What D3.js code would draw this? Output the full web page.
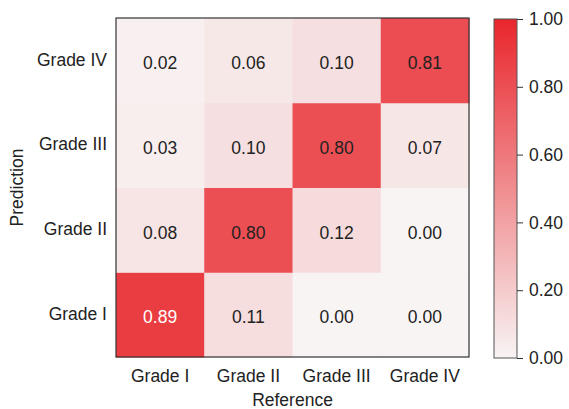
<!DOCTYPE html>
<html><head><meta charset="utf-8">
<script src="https://cdn.jsdelivr.net/npm/d3@7"></script>
<style>body{margin:0;background:#fff}text{font-family:"Liberation Sans",Arial,sans-serif}</style>
</head><body><svg id="c" width="569" height="409"></svg>
<script>
const refLabels = ["Grade I","Grade II","Grade III","Grade IV"];
const predLabels = ["Grade I","Grade II","Grade III","Grade IV"];
// rows: prediction (Grade I..IV), columns: reference (Grade I..IV)
const rowGradeI   = [0.89,0.11,0.00,0.00];
const rowGradeII  = [0.08,0.80,0.12,0.00];
const rowGradeIII = [0.03,0.10,0.80,0.07];
const rowGradeIV  = [0.02,0.06,0.10,0.81];
const colorTicks = [0,0.2,0.4,0.6,0.8,1.0];

const rows = [rowGradeI,rowGradeII,rowGradeIII,rowGradeIV];
const cells = [];
rows.forEach((r,i)=>r.forEach((v,j)=>cells.push({pred:predLabels[i],ref:refLabels[j],v})));

const FS = 17.5;
const svg = d3.select("#c");
const L=116,R=469,T=18,B=357;
const x = d3.scaleBand().domain(refLabels).range([L,R]);
const y = d3.scaleBand().domain(predLabels).range([B,T]);
const color = d3.scaleLinear().domain([0,1]).range(["#f8f4f4","#e8262c"]).interpolate(d3.interpolateRgb);

svg.selectAll("rect.cell").data(cells).enter().append("rect")
  .attr("x",d=>x(d.ref)).attr("y",d=>y(d.pred))
  .attr("width",x.bandwidth()+0.5).attr("height",y.bandwidth()+0.5)
  .attr("fill",d=>color(d.v));
svg.selectAll("text.val").data(cells).enter().append("text")
  .attr("x",d=>x(d.ref)+x.bandwidth()/2).attr("y",d=>y(d.pred)+y.bandwidth()/2)
  .attr("text-anchor","middle").attr("dy","0.5em").attr("font-size",FS)
  .attr("fill",d=>d.v>0.85?"#ffffff":"#222").text(d=>d.v.toFixed(2));
svg.append("rect").attr("x",L).attr("y",T).attr("width",R-L).attr("height",B-T)
  .attr("fill","none").attr("stroke","#333").attr("stroke-width",1.2);

const xa = svg.append("g").attr("transform",`translate(0,${B})`).call(d3.axisBottom(x).tickSize(0).tickPadding(13));
xa.select(".domain").remove();
xa.selectAll("text").attr("font-size",FS).attr("fill","#222").style("font-family","Liberation Sans, Arial, sans-serif");
const ya = svg.append("g").attr("transform",`translate(${L},0)`).call(d3.axisLeft(y).tickSize(0).tickPadding(9));
ya.select(".domain").remove();
ya.selectAll("text").attr("font-size",FS).attr("fill","#222").attr("dy","0.3em").style("font-family","Liberation Sans, Arial, sans-serif");

svg.append("text").attr("x",(L+R)/2).attr("y",406).attr("text-anchor","middle").attr("font-size",FS).attr("fill","#222").text("Reference");
svg.append("text").attr("transform",`translate(23,${(T+B)/2}) rotate(-90)`).attr("text-anchor","middle").attr("font-size",FS).attr("fill","#222").text("Prediction");

// colorbar
const cbL=494,cbW=23,cbT=19,cbB=358;
const cy = d3.scaleLinear().domain([0,1]).range([cbB,cbT]);
const defs = svg.append("defs");
const grad = defs.append("linearGradient").attr("id","g").attr("x1",0).attr("y1",1).attr("x2",0).attr("y2",0);
d3.range(0,1.0001,0.1).forEach(t=>grad.append("stop").attr("offset",t).attr("stop-color",color(t)));
svg.append("rect").attr("x",cbL).attr("y",cbT).attr("width",cbW).attr("height",cbB-cbT).attr("fill","url(#g)")
  .attr("stroke","#555").attr("stroke-width",1);
const ca = svg.append("g").attr("transform",`translate(${cbL+cbW},0)`).call(d3.axisRight(cy).tickValues(colorTicks).tickFormat(d3.format(".2f")).tickSize(6).tickPadding(6));
ca.select(".domain").remove();
ca.selectAll("line").attr("stroke","#333");
ca.selectAll("text").attr("font-size",FS).attr("fill","#222").style("font-family","Liberation Sans, Arial, sans-serif");
</script></body></html>
